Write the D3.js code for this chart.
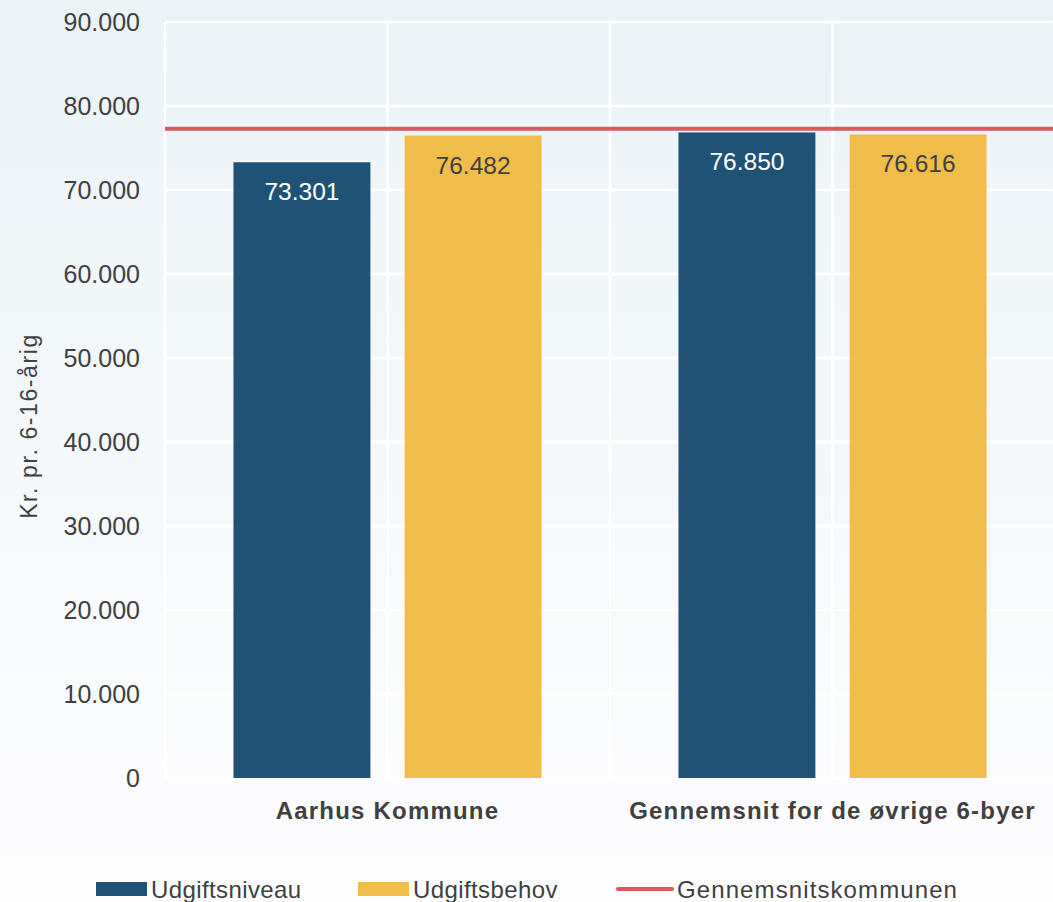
<!DOCTYPE html>
<html>
<head>
<meta charset="utf-8">
<script src="https://cdn.jsdelivr.net/npm/d3@7"></script>
<style>
  body { margin: 0; background: #fcfdfe; }
  svg text { font-family: "Liberation Sans", Arial, sans-serif; fill: #404040; }
</style>
</head>
<body>
<div id="chart"></div>
<script>
const categories = ['Aarhus Kommune', 'Gennemsnit for de øvrige 6-byer'];
const seriesNames = ['Udgiftsniveau', 'Udgiftsbehov'];
const udgiftsniveau = [73301, 76850];
const udgiftsbehov = [76482, 76616];
const gennemsnitskommunen = 77300;
const yTicks = [0, 10000, 20000, 30000, 40000, 50000, 60000, 70000, 80000, 90000];
const lineName = 'Gennemsnitskommunen';

const width = 1053;
const height = 902;
const colors = { Udgiftsniveau: '#1f5274', Udgiftsbehov: '#f0bd4a' };
const red = '#d9595c';

const rows = categories.map((c, i) => ({
  category: c,
  values: [
    { key: seriesNames[0], value: udgiftsniveau[i] },
    { key: seriesNames[1], value: udgiftsbehov[i] },
  ],
}));

const fmt = d3.formatLocale({ decimal: ',', thousands: '.', grouping: [3], currency: ['', ' kr.'] }).format(',');

const svg = d3.select('#chart')
  .append('svg')
  .attr('width', width)
  .attr('height', height);

// background gradient, light blue on top fading to near white
const grad = svg.append('defs').append('linearGradient')
  .attr('id', 'bg')
  .attr('x1', 0).attr('y1', 0).attr('x2', 0).attr('y2', 1);
grad.append('stop').attr('offset', '0%').attr('stop-color', '#ebf3f6');
grad.append('stop').attr('offset', '90%').attr('stop-color', '#fcfcfe');
grad.append('stop').attr('offset', '100%').attr('stop-color', '#fdfdfe');

svg.append('rect')
  .attr('width', width)
  .attr('height', height)
  .attr('fill', 'url(#bg)');

const y = d3.scaleLinear()
  .domain([0, 90000])
  .range([778, 22]);

const x0 = d3.scaleBand()
  .domain(categories)
  .range([165, 1055]);

const x1 = d3.scaleBand()
  .domain(seriesNames)
  .range([0, x0.bandwidth()])
  .paddingInner(0.2)
  .paddingOuter(0.4);

// horizontal gridlines
svg.append('g')
  .selectAll('line')
  .data(yTicks)
  .enter().append('line')
  .attr('x1', 165)
  .attr('x2', width)
  .attr('y1', d => y(d))
  .attr('y2', d => y(d))
  .attr('stroke', '#ffffff')
  .attr('stroke-width', 2.5);

// vertical gridlines at band edges and centres
const vLines = [];
categories.forEach((c) => {
  vLines.push(x0(c));
  vLines.push(x0(c) + (x0.bandwidth() / 2));
});
svg.append('g')
  .selectAll('line')
  .data(vLines)
  .enter().append('line')
  .attr('x1', d => d)
  .attr('x2', d => d)
  .attr('y1', y(90000))
  .attr('y2', y(0))
  .attr('stroke', '#ffffff')
  .attr('stroke-width', 2.5);

// y axis
const yAxis = svg.append('g')
  .attr('transform', 'translate(140,0)')
  .call(d3.axisLeft(y).tickValues(yTicks).tickSize(0).tickPadding(0).tickFormat(fmt));
yAxis.select('.domain').remove();
yAxis.selectAll('text')
  .style('font-size', '25px')
  .attr('fill', '#404040');

svg.append('text')
  .attr('transform', 'translate(37,426) rotate(-90)')
  .attr('text-anchor', 'middle')
  .style('font-size', '23px')
  .style('letter-spacing', '1.6px')
  .text('Kr. pr. 6-16-årig');

// bars
const groups = svg.append('g')
  .selectAll('g')
  .data(rows)
  .enter().append('g')
  .attr('transform', d => `translate(${x0(d.category)},0)`);

groups.selectAll('rect')
  .data(d => d.values)
  .enter().append('rect')
  .attr('x', d => x1(d.key))
  .attr('width', x1.bandwidth())
  .attr('y', d => y(d.value))
  .attr('height', d => y(0) - y(d.value))
  .attr('fill', d => colors[d.key]);

groups.selectAll('text.value')
  .data(d => d.values)
  .enter().append('text')
  .attr('class', 'value')
  .attr('x', d => x1(d.key) + (x1.bandwidth() / 2))
  .attr('y', d => y(d.value) + 38)
  .attr('text-anchor', 'middle')
  .style('font-size', '24.5px')
  .style('fill', d => (d.key === 'Udgiftsniveau' ? '#ffffff' : '#404040'))
  .text(d => fmt(d.value));

// category labels
svg.append('g')
  .selectAll('text')
  .data(categories)
  .enter().append('text')
  .attr('x', d => x0(d) + (x0.bandwidth() / 2))
  .attr('y', 819)
  .attr('text-anchor', 'middle')
  .style('font-size', '24px')
  .style('font-weight', 'bold')
  .style('letter-spacing', '1.2px')
  .text(d => d);

// average line
svg.append('line')
  .attr('x1', 165)
  .attr('x2', width)
  .attr('y1', y(gennemsnitskommunen))
  .attr('y2', y(gennemsnitskommunen))
  .attr('stroke', red)
  .attr('stroke-width', 4);

// legend
const legendItems = [
  { name: seriesNames[0], type: 'rect', color: colors.Udgiftsniveau, x: 96, sp: 0.4 },
  { name: seriesNames[1], type: 'rect', color: colors.Udgiftsbehov, x: 358, sp: 0.4 },
  { name: lineName, type: 'line', color: red, x: 618, sp: 1.1 },
];
const legend = svg.append('g')
  .selectAll('g')
  .data(legendItems)
  .enter().append('g')
  .attr('transform', d => `translate(${d.x},889)`);

legend.filter(d => d.type === 'rect')
  .append('rect')
  .attr('x', 0)
  .attr('y', -7)
  .attr('width', 51)
  .attr('height', 14)
  .attr('fill', d => d.color);

legend.filter(d => d.type === 'line')
  .append('line')
  .attr('x1', 0)
  .attr('x2', 54)
  .attr('stroke', d => d.color)
  .attr('stroke-width', 4)
  .attr('stroke-linecap', 'round');

legend.append('text')
  .attr('x', d => (d.type === 'line' ? 59 : 55))
  .attr('y', 9)
  .style('font-size', '24px')
  .style('letter-spacing', d => `${d.sp}px`)
  .text(d => d.name);
</script>
</body>
</html>
